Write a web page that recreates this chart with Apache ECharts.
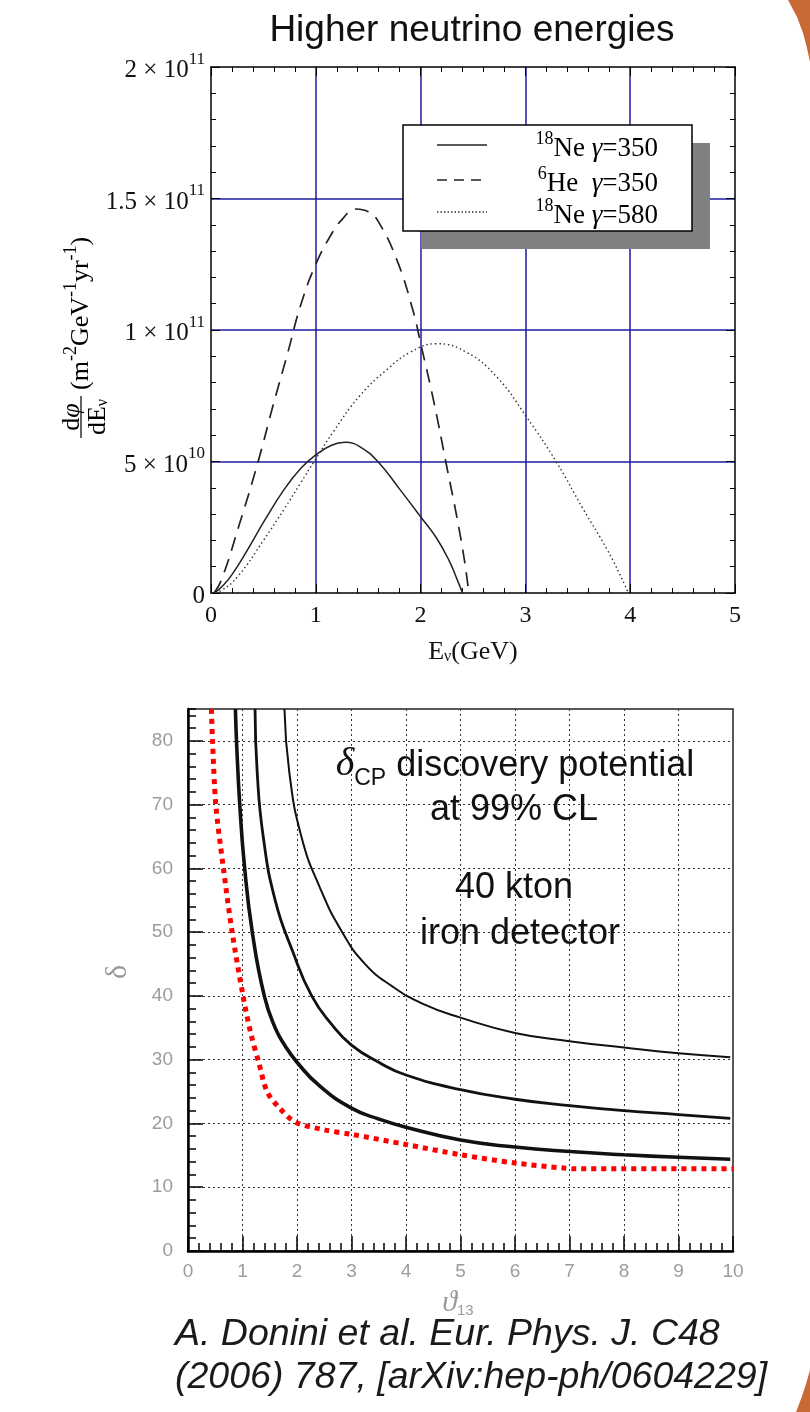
<!DOCTYPE html>
<html>
<head>
<meta charset="utf-8">
<script src="https://cdn.jsdelivr.net/npm/echarts@6/dist/echarts.min.js"></script>
<style>
  html, body { margin: 0; padding: 0; background: #fff; }
  #c { width: 810px; height: 1412px; }
</style>
</head>
<body>
<div id="c"></div>
<script>
// ---------- Upper panel: beta-beam neutrino flux spectra ----------
// [E_nu (GeV), dphi/dE (m^-2 GeV^-1 yr^-1)]
const ne18Gamma350 = [[0,0],[0.05,0.5e9],[0.13,3.5e9],[0.2,7e9],[0.32,14.5e9],[0.51,27.5e9],[0.7,39.5e9],[0.86,47.5e9],[1.0,52.5e9],[1.15,56.2e9],[1.28,57.3e9],[1.43,55.4e9],[1.6,49.6e9],[1.8,39.5e9],[2.0,29e9],[2.15,21e9],[2.27,12.5e9],[2.35,5e9],[2.4,0]];
const he6Gamma350 = [[0.03,0],[0.1,5e9],[0.27,26e9],[0.45,50e9],[0.59,71e9],[0.73,91e9],[0.86,110e9],[1.0,125e9],[1.15,136.5e9],[1.25,142e9],[1.38,146e9],[1.5,145e9],[1.6,141e9],[1.78,126e9],[1.93,107e9],[2.0,95e9],[2.13,72e9],[2.25,48e9],[2.35,28e9],[2.42,12e9],[2.46,0]];
const ne18Gamma580 = [[0,0],[0.1,1e9],[0.26,6.5e9],[0.5,20e9],[0.7,32e9],[0.85,41.5e9],[1.0,51e9],[1.17,61.5e9],[1.42,75e9],[1.68,85e9],[1.9,91.5e9],[2.15,94.8e9],[2.44,91.5e9],[2.73,82e9],[3.01,67e9],[3.3,49.5e9],[3.55,32e9],[3.78,16.5e9],[3.95,3e9],[3.98,0]];

// y tick labels written as mantissa x 10^exponent
const fluxTickValues = [0, 5e10, 1e11, 1.5e11, 2e11];
const fluxTickMantissa = ['0', '5', '1', '1.5', '2'];
const fluxTickExponent = ['', '10', '11', '11', '11'];

// legend entries: isotope mass number, element, boost
const legendMass = ['18', '6', '18'];
const legendElement = ['Ne', 'He', 'Ne'];
const legendGamma = ['350', '350', '580'];

// ---------- Lower panel: delta_CP discovery potential (theta13, delta in degrees) ----------
const curveThick = [[0.87,85],[0.89,80],[0.95,70],[1.04,60],[1.18,50],[1.4,40],[1.6,35],[1.78,32.2],[2.0,29.6],[2.4,26],[3.0,22.4],[3.5,20.7],[4,19.4],[5,17.4],[6,16.3],[7,15.6],[8,15.1],[9,14.7],[9.95,14.4]];
const curveMedium = [[1.23,85],[1.27,75],[1.38,65],[1.6,55],[1.92,47],[2.27,40],[2.64,35.5],[3.0,32.3],[3.5,29.6],[4,27.6],[5,25.3],[6,23.8],[7,22.8],[8,22],[9,21.4],[9.95,20.8]];
const curveThin = [[1.77,85],[1.86,75],[2.08,65],[2.42,57],[2.83,50],[3.25,45],[3.75,41.5],[4.3,38.8],[5,36.6],[6,34.2],[7,32.9],[8,31.9],[9,31],[9.95,30.4]];
const curveRed = [[0.43,85],[0.45,80],[0.51,70],[0.65,60],[0.81,50],[1.01,40],[1.15,34.2],[1.3,29.5],[1.45,25],[1.67,22.5],[1.97,20.2],[2.5,19],[3,18.3],[4,16.7],[5,15.1],[6,13.8],[6.9,13],[7.1,12.9],[10,12.9]];

const serif = "'Liberation Serif','DejaVu Serif','Times New Roman',serif";
const sans = "'Liberation Sans',Arial,Helvetica,sans-serif";

const chart = echarts.init(document.getElementById('c'), null, { renderer: 'canvas' });

const frameTick = { show: true, inside: true, length: 9, lineStyle: { color: '#000', width: 1 } };
const frameMinor = { show: true, splitNumber: 5, length: 5, lineStyle: { color: '#000', width: 1 } };
const blueGrid = { show: true, showMinLine: false, showMaxLine: false, lineStyle: { color: '#1b1b9e', width: 1.5 } };
const dotGrid = { show: true, showMinLine: false, showMaxLine: false, lineStyle: { color: '#333', width: 1, type: [2, 3] } };
const grayLabel = { color: '#9c9c9c', fontFamily: sans, fontSize: 19, margin: 15 };

const serifRich = {
  m: { fontFamily: serif, fontSize: 25, color: '#111', lineHeight: 32, verticalAlign: 'bottom' },
  s: { fontFamily: serif, fontSize: 17, color: '#111', lineHeight: 16, verticalAlign: 'top' },
  u: { fontFamily: serif, fontSize: 16, color: '#111', lineHeight: 13, verticalAlign: 'bottom' },
  g: { fontFamily: serif, fontStyle: 'italic', fontSize: 27, color: '#111', lineHeight: 32, verticalAlign: 'bottom' },
  t: { fontFamily: serif, fontSize: 27, color: '#111', lineHeight: 32, verticalAlign: 'bottom' },
  ls: { fontFamily: serif, fontSize: 18, color: '#111', lineHeight: 16, verticalAlign: 'top' }
};
const labelRich = {
  m: { fontFamily: serif, fontSize: 26, color: '#111', lineHeight: 32, verticalAlign: 'bottom' },
  g: { fontFamily: serif, fontStyle: 'italic', fontSize: 26, color: '#111', lineHeight: 32, verticalAlign: 'bottom' },
  s: { fontFamily: serif, fontSize: 18, color: '#111', lineHeight: 16, verticalAlign: 'top' },
  u: { fontFamily: serif, fontSize: 16, color: '#111', lineHeight: 13, verticalAlign: 'bottom' }
};

function fluxLabel(v) {
  const i = fluxTickValues.findIndex(t => Math.abs(t - v) < 1);
  if (i < 0) return '';
  if (!fluxTickExponent[i]) return '{m|' + fluxTickMantissa[i] + '}';
  return '{m|' + fluxTickMantissa[i] + ' \u00d7 10}{s|' + fluxTickExponent[i] + '}';
}

const legendRows = [145, 180, 212];
const legendDash = [null, [10, 7], [1.5, 2]];
const legendGraphics = [
  { type: 'rect', z: 50, shape: { x: 421, y: 143, width: 289, height: 106 }, style: { fill: '#808080' } },
  { type: 'rect', z: 51, shape: { x: 403, y: 125, width: 289, height: 106 }, style: { fill: '#fff', stroke: '#000', lineWidth: 1.5 } }
];
legendRows.forEach((y, i) => {
  legendGraphics.push({
    type: 'line', z: 52, shape: { x1: 437, y1: y, x2: 487, y2: y },
    style: { stroke: i === 2 ? '#333' : '#222', lineWidth: i === 2 ? 1.3 : 1.5, lineDash: legendDash[i] }
  });
  legendGraphics.push({
    type: 'text', z: 52, x: 658, y: y + 1,
    style: {
      text: '{ls|' + legendMass[i] + '}{t|' + legendElement[i] + (i === 1 ? '  ' : ' ') + '}{g|\u03b3}{t|=' + legendGamma[i] + '}',
      rich: serifRich, align: 'right', verticalAlign: 'middle'
    }
  });
});

const smoothness = 0.45;

const option = {
  backgroundColor: '#fff',
  animation: false,
  grid: [
    { left: 211, top: 67, width: 524, height: 526, show: false },
    { left: 188, top: 709, width: 545, height: 542, show: true, borderColor: '#222', borderWidth: 1.5, backgroundColor: 'transparent' }
  ],
  xAxis: [
    { gridIndex: 0, type: 'value', min: 0, max: 5, interval: 1,
      axisLine: { show: true, onZero: false, lineStyle: { color: '#000', width: 1.5 } },
      axisTick: frameTick, minorTick: frameMinor, splitLine: blueGrid,
      axisLabel: { fontFamily: serif, fontSize: 24, color: '#111', margin: 11 },
      name: '{m|E}{u|\u03bd}{m|(GeV)}', nameLocation: 'middle', nameGap: 40,
      nameTextStyle: { rich: labelRich } },
    { gridIndex: 0, type: 'value', min: 0, max: 5, interval: 1, position: 'top',
      axisLine: { show: true, onZero: false, lineStyle: { color: '#000', width: 1.5 } },
      axisTick: frameTick, minorTick: frameMinor, splitLine: { show: false }, axisLabel: { show: false } },
    { gridIndex: 1, type: 'value', min: 0, max: 10, interval: 1,
      axisLine: { show: true, onZero: false, lineStyle: { color: '#000', width: 2.5 } },
      axisTick: { show: true, inside: true, length: 15, lineStyle: { color: '#000', width: 1.5 } },
      minorTick: { show: true, splitNumber: 5, length: 8, lineStyle: { color: '#000', width: 1.5 } },
      splitLine: dotGrid, axisLabel: Object.assign({}, grayLabel, { margin: 11 }) }
  ],
  yAxis: [
    { gridIndex: 0, type: 'value', min: 0, max: 2e11, interval: 5e10,
      axisLine: { show: true, onZero: false, lineStyle: { color: '#000', width: 1.5 } },
      axisTick: frameTick, minorTick: frameMinor, splitLine: blueGrid,
      axisLabel: { margin: 6, formatter: fluxLabel, rich: serifRich } },
    { gridIndex: 0, type: 'value', min: 0, max: 2e11, interval: 5e10, position: 'right',
      axisLine: { show: true, onZero: false, lineStyle: { color: '#000', width: 1.5 } },
      axisTick: frameTick, minorTick: frameMinor, splitLine: { show: false }, axisLabel: { show: false } },
    { gridIndex: 1, type: 'value', min: 0, max: 85, interval: 10, position: 'left',
      axisLine: { show: true, onZero: false, lineStyle: { color: '#000', width: 2.5 } },
      axisTick: { show: true, inside: true, length: 15, lineStyle: { color: '#000', width: 1.5 } },
      splitLine: dotGrid, axisLabel: Object.assign({ showMaxLabel: false }, grayLabel) },
    { gridIndex: 1, type: 'value', min: 0, max: 85, interval: 2, position: 'left',
      axisLine: { show: false },
      axisTick: { show: true, inside: true, length: 8, lineStyle: { color: '#000', width: 1.5 } },
      splitLine: { show: false }, axisLabel: { show: false } }
  ],
  series: [
    { name: '18Ne gamma=350', type: 'line', xAxisIndex: 0, yAxisIndex: 0, data: ne18Gamma350,
      showSymbol: false, smooth: smoothness, z: 5,
      lineStyle: { color: '#222', width: 1.5 } },
    { name: '6He gamma=350', type: 'line', xAxisIndex: 0, yAxisIndex: 0, data: he6Gamma350,
      showSymbol: false, smooth: smoothness, z: 5,
      lineStyle: { color: '#222', width: 1.7, type: [14, 9] } },
    { name: '18Ne gamma=580', type: 'line', xAxisIndex: 0, yAxisIndex: 0, data: ne18Gamma580,
      showSymbol: false, smooth: smoothness, z: 5,
      lineStyle: { color: '#333', width: 1.4, type: [1.5, 2.8] } },
    { name: 'thin', type: 'line', xAxisIndex: 2, yAxisIndex: 2, data: curveThin,
      showSymbol: false, smooth: 0.5, z: 5, lineStyle: { color: '#111', width: 2 } },
    { name: 'medium', type: 'line', xAxisIndex: 2, yAxisIndex: 2, data: curveMedium,
      showSymbol: false, smooth: 0.5, z: 5, lineStyle: { color: '#111', width: 2.8 } },
    { name: 'thick', type: 'line', xAxisIndex: 2, yAxisIndex: 2, data: curveThick,
      showSymbol: false, smooth: 0.5, z: 5, lineStyle: { color: '#111', width: 3.6 } },
    { name: 'red', type: 'line', xAxisIndex: 2, yAxisIndex: 2, data: curveRed,
      showSymbol: false, smooth: 0.3, z: 6,
      lineStyle: { color: '#ff0000', width: 5, type: [5, 5], cap: 'butt' } }
  ],
  graphic: [
    // panel title
    { type: 'text', z: 60, x: 472, y: 31,
      style: { text: 'Higher neutrino energies', font: '37px ' + sans, fill: '#111', align: 'center', verticalAlign: 'middle' } },
    // vertical flux label: fraction plus units
    { type: 'group', z: 60, x: 81, y: 330, rotation: Math.PI / 2, children: [
      { type: 'text', z: 60, x: -87, y: -12,
        style: { text: '{m|d}{g|\u03c6}', rich: labelRich, align: 'center', verticalAlign: 'middle' } },
      { type: 'line', z: 60, shape: { x1: -108, y1: 0, x2: -66, y2: 0 }, style: { stroke: '#111', lineWidth: 1.3 } },
      { type: 'text', z: 60, x: -87, y: 14,
        style: { text: '{m|dE}{u|\u03bd}', rich: labelRich, align: 'center', verticalAlign: 'middle' } },
      { type: 'text', z: 60, x: -60, y: -3,
        style: { text: '{m|(m}{s|-2}{m|GeV}{s|-1}{m|yr}{s|-1}{m|)}', rich: labelRich, align: 'left', verticalAlign: 'middle' } }
    ] },
    ...legendGraphics,
    // annotation inside the lower panel
    { type: 'text', z: 60, x: 515, y: 763,
      style: {
        text: '{d|\u03b4}{c|CP}{t| discovery potential}',
        rich: {
          d: { fontFamily: serif, fontStyle: 'italic', fontSize: 40, fill: '#111', lineHeight: 42, verticalAlign: 'bottom' },
          c: { fontFamily: sans, fontSize: 23, fill: '#111', lineHeight: 22, verticalAlign: 'bottom', padding: [0, 0, -6, 0] },
          t: { fontFamily: sans, fontSize: 36, fill: '#111', lineHeight: 42, verticalAlign: 'bottom' }
        },
        align: 'center', verticalAlign: 'middle'
      } },
    { type: 'text', z: 60, x: 514, y: 810,
      style: { text: 'at 99% CL', font: '36px ' + sans, fill: '#111', align: 'center', verticalAlign: 'middle' } },
    { type: 'text', z: 60, x: 514, y: 888,
      style: { text: '40 kton', font: '36px ' + sans, fill: '#111', align: 'center', verticalAlign: 'middle' } },
    { type: 'text', z: 60, x: 520, y: 934,
      style: { text: 'iron detector', font: '36px ' + sans, fill: '#111', align: 'center', verticalAlign: 'middle' } },
    // axis titles of the lower panel
    { type: 'text', z: 60, x: 118, y: 972, rotation: Math.PI / 2,
      style: { text: '\u03b4', font: '30px ' + serif, fill: '#9a9a9a', align: 'center', verticalAlign: 'middle' } },
    { type: 'text', z: 60, x: 458, y: 1303,
      style: {
        text: '{a|\u03d1}{b|13}',
        rich: {
          a: { fontFamily: serif, fontStyle: 'italic', fontSize: 30, fill: '#9a9a9a', lineHeight: 30, verticalAlign: 'top' },
          b: { fontFamily: sans, fontSize: 15, fill: '#9a9a9a', lineHeight: 18, verticalAlign: 'bottom' }
        },
        align: 'center', verticalAlign: 'middle'
      } },
    // reference
    { type: 'text', z: 60, x: 175, y: 1335,
      style: { text: 'A. Donini et al. Eur. Phys. J. C48', font: 'italic 37.5px ' + sans, fill: '#1a1a1a', align: 'left', verticalAlign: 'middle' } },
    { type: 'text', z: 60, x: 175, y: 1378,
      style: { text: '(2006) 787, [arXiv:hep-ph/0604229]', font: 'italic 37.5px ' + sans, fill: '#1a1a1a', align: 'left', verticalAlign: 'middle' } },
    // slide decoration at the right edge
    { type: 'polygon', z: 60, shape: { points: [[788,0],[810,0],[810,62],[807,48],[803,33],[797,17]] }, style: { fill: '#c96a36' } },
    { type: 'polygon', z: 60, shape: { points: [[796,1412],[810,1412],[810,1370],[806,1384],[801,1399]] }, style: { fill: '#c96a36' } }
  ]
};

chart.setOption(option);
</script>
</body>
</html>
